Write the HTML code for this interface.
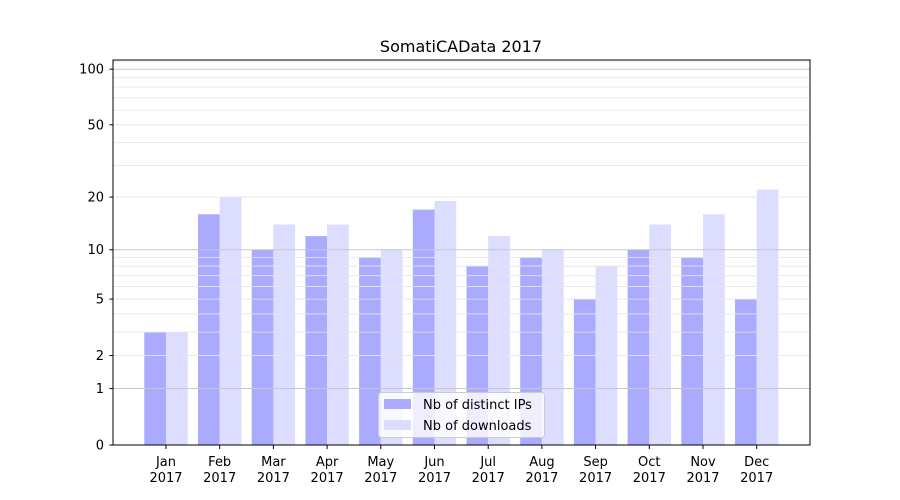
<!DOCTYPE html>
<html><head><meta charset="utf-8"><style>
body{margin:0;background:#fff;}
svg{display:block;font-family:"DejaVu Sans","Liberation Sans",sans-serif;}
</style></head><body>
<svg id="s" width="900" height="500" viewBox="0 0 900 500" xmlns="http://www.w3.org/2000/svg"></svg>
<script>
const s=document.getElementById('s');
const K=187.5,B=445;
const Y=v=>B-K*Math.log10(1+v);
let h='<rect width="900" height="500" fill="#fff"/>';
const months=['Jan','Feb','Mar','Apr','May','Jun','Jul','Aug','Sep','Oct','Nov','Dec'];
const ips=[3,16,10,12,9,17,8,9,5,10,9,5];
const dl=[3,20,14,14,10,19,12,10,8,14,16,22];
const x0=166,dx=53.7,w=21.7;
for(let i=0;i<12;i++){
  const c=x0+i*dx;
  h+=`<rect x="${c-w}" y="${Y(ips[i])}" width="${w}" height="${B-Y(ips[i])}" fill="#aaaaff"/>`;
  h+=`<rect x="${c}" y="${Y(dl[i])}" width="${w}" height="${B-Y(dl[i])}" fill="#ddddff"/>`;
}
// grid
const minors=[2,3,4,5,6,7,8,9,20,30,40,50,60,70,80,90,110];
for(const v of minors){const y=Y(v);if(y>60)h+=`<line x1="113" x2="810" y1="${y}" y2="${y}" stroke="#e6e6e6" stroke-width="0.8"/>`;}
for(const v of [1,10,100]){const y=Y(v);h+=`<line x1="113" x2="810" y1="${y}" y2="${y}" stroke="#c8c8c8" stroke-width="1"/>`;}
// axes
h+='<rect x="113" y="60" width="697" height="385" fill="none" stroke="#000" stroke-width="1"/>';
// y ticks
for(const v of [0,1,2,5,10,20,50,100]){const y=Y(v);
  h+=`<line x1="109.5" x2="113" y1="${y}" y2="${y}" stroke="#000"/>`;
  h+=`<text x="104" y="${y+4.5}" font-size="13" text-anchor="end">${v}</text>`;}
// x ticks
for(let i=0;i<12;i++){const c=x0+i*dx;
  h+=`<line x1="${c}" x2="${c}" y1="445" y2="449" stroke="#000"/>`;
  h+=`<text x="${c}" y="466" font-size="13" text-anchor="middle">${months[i]}</text>`;
  h+=`<text x="${c}" y="482" font-size="13" text-anchor="middle">2017</text>`;}
h+='<text x="461" y="52" font-size="16" text-anchor="middle">SomatiCAData 2017</text>';
// legend
h+='<rect x="378.5" y="392.5" width="166" height="45" rx="3" fill="#fff" fill-opacity="0.8" stroke="#ccc"/>';
h+='<rect x="384" y="399" width="27" height="10" fill="#aaaaff"/>';
h+='<rect x="384" y="420" width="27" height="10" fill="#ddddff"/>';
h+='<text x="423" y="409" font-size="13">Nb of distinct IPs</text>';
h+='<text x="423" y="430" font-size="13">Nb of downloads</text>';
s.innerHTML=h;
</script>
</body></html>
